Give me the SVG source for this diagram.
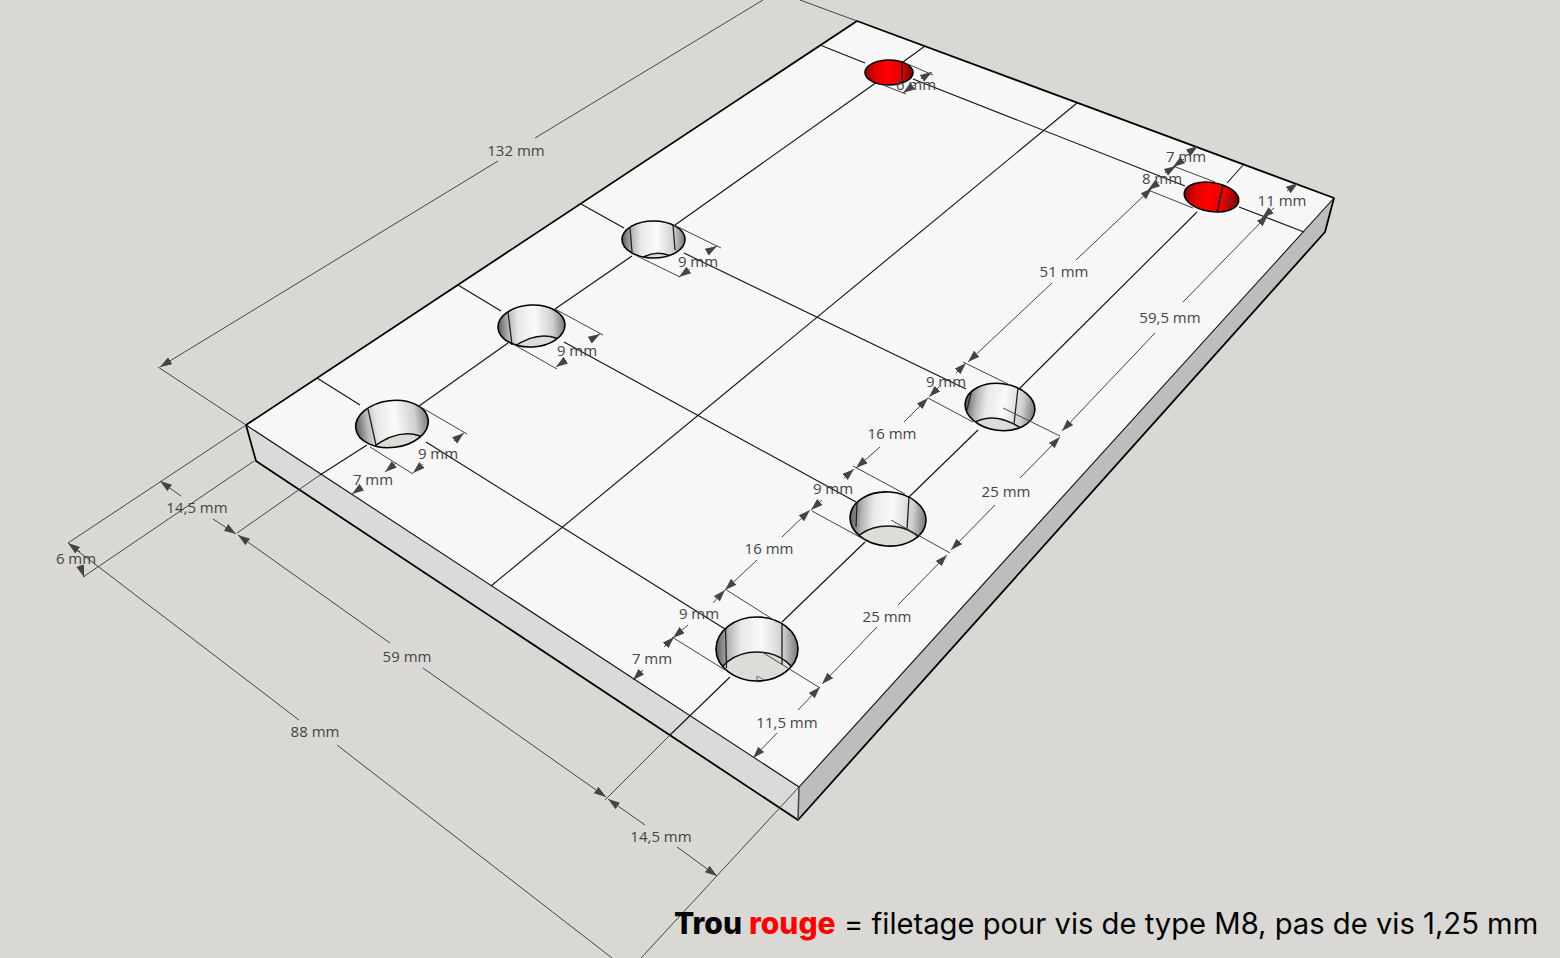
<svg xmlns="http://www.w3.org/2000/svg" width="1560" height="958" viewBox="0 0 1560 958">
<style>
.e{stroke:#000;stroke-width:1.8;fill:none;stroke-linecap:round;stroke-linejoin:round}
.b{stroke:#111;stroke-width:1.1;fill:none}
.d{stroke:#444;stroke-width:1;fill:none}
.a{marker-end:url(#ar)}
.h{stroke:#000;stroke-width:1.6;fill:none}
.w{stroke:#222;stroke-width:1.3;fill:none}
.f{stroke:#111;stroke-width:1.5;fill:#dddcd8}
.t{font-family:"Open Sans","Noto Sans",sans-serif;font-size:15px;fill:#444;text-anchor:middle}
.big{font-family:"Inter","Noto Sans",sans-serif;font-size:29.2px;fill:#000}
.bb{font-weight:800;font-size:30px}
</style>
<defs>
<marker id="ar" markerUnits="userSpaceOnUse" markerWidth="14" markerHeight="10" refX="12" refY="4" orient="auto"><path d="M0 0L12 4L0 8Z" fill="#444"/></marker>
<linearGradient id="gw"><stop offset="0" stop-color="#5c5c5c"/><stop offset=".16" stop-color="#b8b8b8"/><stop offset=".3" stop-color="#e8e8e8"/><stop offset=".55" stop-color="#fafafa"/><stop offset=".82" stop-color="#cfcfcf"/><stop offset="1" stop-color="#777"/></linearGradient>
<linearGradient id="gr"><stop offset="0" stop-color="#8a0000"/><stop offset=".2" stop-color="#e00000"/><stop offset=".45" stop-color="#ff0000"/><stop offset=".75" stop-color="#e60000"/><stop offset="1" stop-color="#6e0000"/></linearGradient>
<clipPath id="c1"><ellipse cx="757" cy="649" rx="41" ry="32"/></clipPath>
<clipPath id="c2"><ellipse cx="888" cy="519" rx="38" ry="27" transform="rotate(4 888 519)"/></clipPath>
<clipPath id="c3"><ellipse cx="1000" cy="407" rx="35" ry="23.5" transform="rotate(7 1000 407)"/></clipPath>
<clipPath id="c4"><ellipse cx="392" cy="424" rx="36.5" ry="23.5" transform="rotate(-7 392 424)"/></clipPath>
<clipPath id="c5"><ellipse cx="531.500" cy="326" rx="33.500" ry="21" transform="rotate(-3 531.500 326)"/></clipPath>
<clipPath id="c6"><ellipse cx="653.500" cy="239.500" rx="31.500" ry="18.500"/></clipPath>
</defs>
<rect width="1560" height="958" fill="#d9d8d4"/>
<g id="slab">
<polygon points="246,425 799,787 798,820 256,461" fill="#dadada"/>
<polygon points="799,787 1334,198 1325,232 798,820" fill="#bdbdbd"/>
<polygon points="246,425 857,21 1334,198 799,787" fill="#f7f7f7"/>
</g>
<g id="construction-lines">
<path class="b" d="M820 45L865 63M913 79L1185 186M1239 207L1304 232"/>
<path class="b" d="M581 204L624 228M684 253L966 389"/>
<path class="b" d="M458 285L501 311M564 342L856 502"/>
<path class="b" d="M317 378L360 405M426 442L725 629"/>
<path class="b" d="M925 46L903 62M877 82L675 225M632 256L555 309M508 343L419 406M367 445L320 475"/>
<path class="b" d="M1077 103L491 586"/>
<path class="b" d="M1244 164L1227 183M1197 212L1017 391M978 430L909 497M865 542L782 622M730 677L670 735"/>
</g>
<g id="holes">
<g id="hole-1"><ellipse cx="757" cy="649" rx="41" ry="32" fill="url(#gw)"/><ellipse cx="757" cy="684" rx="41" ry="32" clip-path="url(#c1)" class="f"/><path class="w" d="M725.500 629L726.500 668M782 623L782 665"/><path d="M757 676L764 680L757 682Z" fill="none" stroke="#555" stroke-width=".8"/><ellipse cx="757" cy="649" rx="41" ry="32" class="h"/></g>
<g id="hole-2"><ellipse cx="888" cy="519" rx="38" ry="27" transform="rotate(4 888 519)" fill="url(#gw)"/><ellipse cx="888" cy="553" rx="38" ry="27" clip-path="url(#c2)" class="f"/><path class="w" d="M857 503L856 527M909 497L907 530"/><ellipse cx="888" cy="519" rx="38" ry="27" transform="rotate(4 888 519)" class="h"/></g>
<g id="hole-3"><ellipse cx="1000" cy="407" rx="35" ry="23.500" transform="rotate(7 1000 407)" fill="url(#gw)"/><path d="M970 425Q995 408 1026 432L1026 440L970 440Z" clip-path="url(#c3)" class="f"/><path class="w" d="M971 393L967 410M1018 388L1014 424"/><ellipse cx="1000" cy="407" rx="35" ry="23.500" transform="rotate(7 1000 407)" class="h"/></g>
<g id="hole-4"><ellipse cx="392" cy="424" rx="36.500" ry="23.500" transform="rotate(-7 392 424)" fill="url(#gw)"/><path d="M372 448Q398 428 420 436L420 452L372 452Z" clip-path="url(#c4)" class="f"/><path class="w" d="M368 409L376 445"/><ellipse cx="392" cy="424" rx="36.500" ry="23.500" transform="rotate(-7 392 424)" class="h"/></g>
<g id="hole-5"><ellipse cx="531.500" cy="326" rx="33.500" ry="21" transform="rotate(-3 531.500 326)" fill="url(#gw)"/><path d="M512 348Q536 331 556 338L556 352L512 352Z" clip-path="url(#c5)" class="f"/><path class="w" d="M508 312L512 345"/><ellipse cx="531.500" cy="326" rx="33.500" ry="21" transform="rotate(-3 531.500 326)" class="h"/></g>
<g id="hole-6"><ellipse cx="653.500" cy="239.500" rx="31.500" ry="18.500" fill="url(#gw)"/><path d="M640 259Q654 250 668 255L668 262L640 262Z" clip-path="url(#c6)" class="f"/><path class="w" d="M630 228L632 252M673 225L675 250"/><ellipse cx="653.500" cy="239.500" rx="31.500" ry="18.500" class="h"/></g>
<g id="red-hole-1"><ellipse cx="889" cy="72.500" rx="24" ry="12.500" fill="url(#gr)"/><path class="w" d="M902 62L902 83"/><ellipse cx="889" cy="72.500" rx="24" ry="12.500" class="h"/></g>
<g id="red-hole-2"><ellipse cx="1211.500" cy="197" rx="27.500" ry="14.500" transform="rotate(9 1211.500 197)" fill="url(#gr)"/><path class="w" d="M1223 185L1217 212"/><path class="d" d="M1215 198L1237 205"/><ellipse cx="1211.500" cy="197" rx="27.500" ry="14.500" transform="rotate(9 1211.500 197)" class="h"/></g>
</g>
<g id="slab-edges">
<path class="e" d="M246 425L857 21L1334 198L1325 232L798 820L256 461L246 425"/>
<path class="b" d="M246 425L799 787L1334 198"/>
<path d="M799 787L798 820" stroke="#444" stroke-width="1.500"/>
</g>
<g id="connectors">
<path class="d" d="M158 367L246 425M800 0L857 21M68 543L246 425M83 577L254 461M320 475L237 533M670 735L605 800M799 787L641 958"/>
<path class="d" d="M70 545L299 720M337 745L612 958"/>
<path class="d a" d="M498 161L160 367"/><path class="d" d="M535 138L763 0"/>
<path class="d" d="M370 447L413 474M419 406L467 434M513 344L557 369M555 309L603 335M637 256L680 277M674 225L721 248"/>
<path class="d" d="M903 62L933 75M883 85L906 94M1173 166L1215 182M1148 190L1193 208M1003 408L1060 436M891 520L950 553M762 652L820 688M928 398L973 422M963 362L1010 385M812 511L865 540M853 466L905 494M672 637L725 670M725 589L777 622"/>
<path class="d a" d="M423 464L413 473"/><path class="d a" d="M454 441L464 433"/>
<path class="d a" d="M396 463L385 472"/>
<path class="d a" d="M362 487L352 494"/>
<path class="d a" d="M566 360L556 367"/><path class="d a" d="M590 340L600 334"/>
<path class="d a" d="M690 269L679 277"/><path class="d a" d="M707 252L717 246"/>
<path class="d a" d="M181 496L160 481"/>
<path class="d a" d="M213 519L236 534"/>
<path class="d a" d="M390 643L238 535"/>
<path class="d a" d="M423 668L606 797"/>
<path class="d a" d="M645 825L608 799"/>
<path class="d a" d="M677 847L717 876"/>
<path class="d a" d="M80 552L68 543"/>
<path class="d a" d="M80 565L84 577"/>
<path class="d a" d="M1076 260L1152 188"/><path class="d a" d="M1052 283L968 362"/>
<path class="d a" d="M1183 302L1268 215"/><path class="d a" d="M1155 333L1062 431"/>
<path class="d a" d="M1020 478L1060 437"/><path class="d a" d="M995 505L951 550"/>
<path class="d a" d="M898 605L947 555"/><path class="d a" d="M877 627L822 684"/>
<path class="d a" d="M798 710L820 687"/><path class="d a" d="M777 733L753 758"/>
<path class="d a" d="M782 537L810 510"/><path class="d a" d="M757 560L725 590"/>
<path class="d a" d="M904 422L928 398"/><path class="d a" d="M880 447L856 468"/>
<path class="d a" d="M939 387L929 397"/><path class="d a" d="M956 373L966 363"/>
<path class="d a" d="M844 478L854 469"/><path class="d a" d="M822 500L811 510"/>
<path class="d a" d="M713 603L725 590"/><path class="d a" d="M688 625L673 638"/>
<path class="d a" d="M664 647L674 637"/>
<path class="d a" d="M643 670L633 680"/>
<path class="d a" d="M921 79L932 72"/>
<path class="d a" d="M914 85L903 93"/>
<path class="d a" d="M1188 153L1198 146"/>
<path class="d a" d="M1184 159L1173 167"/>
<path class="d a" d="M1165 173L1176 166"/>
<path class="d a" d="M1159 182L1148 190"/>
<path class="d a" d="M1287 191L1298 183"/>
<path class="d a" d="M1274 208L1262 218"/>
</g>
<g id="labels">
<text class="t" x="516" y="156">132 mm</text>
<text class="t" x="916" y="90">6 mm</text>
<text class="t" x="1186" y="162">7 mm</text>
<text class="t" x="1162" y="184">8 mm</text>
<text class="t" x="1282" y="206">11 mm</text>
<text class="t" x="1064" y="277">51 mm</text>
<text class="t" x="1170" y="323">59,5 mm</text>
<text class="t" x="698" y="267">9 mm</text>
<text class="t" x="577" y="356">9 mm</text>
<text class="t" x="438" y="459">9 mm</text>
<text class="t" x="373" y="485">7 mm</text>
<text class="t" x="197" y="513">14,5 mm</text>
<text class="t" x="76" y="564">6 mm</text>
<text class="t" x="407" y="662">59 mm</text>
<text class="t" x="315" y="737">88 mm</text>
<text class="t" x="661" y="842">14,5 mm</text>
<text class="t" x="946" y="387">9 mm</text>
<text class="t" x="892" y="439">16 mm</text>
<text class="t" x="833" y="494">9 mm</text>
<text class="t" x="1006" y="497">25 mm</text>
<text class="t" x="769" y="554">16 mm</text>
<text class="t" x="887" y="622">25 mm</text>
<text class="t" x="699" y="619">9 mm</text>
<text class="t" x="652" y="664">7 mm</text>
<text class="t" x="787" y="728">11,5 mm</text>
<text class="big" y="934"><tspan class="bb" x="674">Trou</tspan> <tspan class="bb" x="749" fill="#ff0000">rouge</tspan> <tspan x="844">= filetage pour vis de type M8, pas de vis 1,25 mm</tspan></text>
</g>
</svg>
